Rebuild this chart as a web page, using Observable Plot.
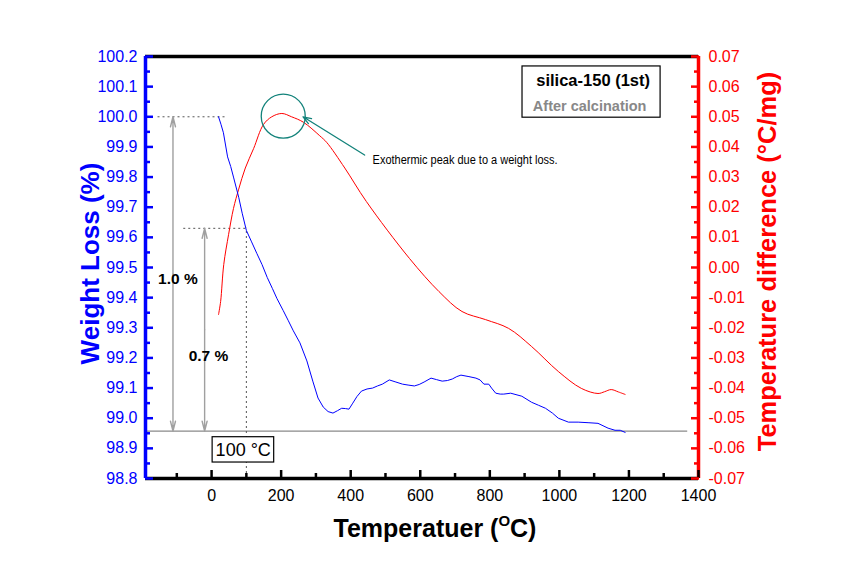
<!DOCTYPE html>
<html><head><meta charset="utf-8">
<script src="https://cdn.jsdelivr.net/npm/d3@7"></script>
<script src="https://cdn.jsdelivr.net/npm/@observablehq/plot@0.6"></script>
<style>body{margin:0;background:#fff;font-family:"Liberation Sans",Arial,sans-serif}</style>
</head><body><div id="chart"></div>
<script>
// Weight loss (TGA) curve: temperature (°C) and weight (%)
const weightT = [20,27,34,46,55,63,78,88,100,115,130,145,160,175,188,206,220,235,254,274,291,306,321,335,349,362,374,385,395,406,418,431,447,463,477,491,511,530,549,565,583,597,611,631,647,663,678,692,705,717,740,760,772,783,797,805,817,830,840,860,892,920,940,960,980,997,1026,1054,1085,1111,1140,1160,1175,1189];
const weightW = [100.00,99.975,99.947,99.867,99.835,99.80,99.733,99.68,99.623,99.585,99.547,99.51,99.467,99.43,99.397,99.357,99.325,99.29,99.25,99.19,99.123,99.067,99.037,99.022,99.017,99.025,99.033,99.032,99.03,99.05,99.072,99.09,99.097,99.10,99.107,99.113,99.127,99.12,99.113,99.11,99.107,99.112,99.12,99.133,99.128,99.123,99.125,99.13,99.138,99.143,99.138,99.133,99.127,99.113,99.113,99.10,99.083,99.08,99.08,99.083,99.073,99.053,99.043,99.033,99.017,99.0,98.987,98.987,98.985,98.983,98.967,98.96,98.96,98.953];
// Temperature difference (DTA) curve: temperature (°C) and ΔT (°C/mg)
const dtaT = [20,26,35,49,63,78,97,121,149,173,202,230,264,311,331,383,445,569,654,720,788,854,920,997,1063,1111,1130,1149,1170,1189];
const dtaD = [-0.0156,-0.0113,0.001,0.011,0.0196,0.026,0.033,0.0395,0.0474,0.0500,0.0511,0.0500,0.0482,0.0437,0.0415,0.0330,0.0219,0.003,-0.008,-0.0146,-0.0173,-0.0202,-0.0262,-0.0345,-0.0401,-0.0418,-0.0412,-0.0405,-0.0413,-0.0421];
// Ticks
const xTicks = [0,200,400,600,800,1000,1200,1400];
const xMinorTicks = [-100,100,300,500,700,900,1100,1300];
const yLeftTicks = [98.8,98.9,99.0,99.1,99.2,99.3,99.4,99.5,99.6,99.7,99.8,99.9,100.0,100.1,100.2];
const yLeftMinor = [98.85,98.95,99.05,99.15,99.25,99.35,99.45,99.55,99.65,99.75,99.85,99.95,100.05,100.15];
const yRightTicks = [-0.07,-0.06,-0.05,-0.04,-0.03,-0.02,-0.01,0.00,0.01,0.02,0.03,0.04,0.05,0.06,0.07];
const yRightMinor = [-0.065,-0.055,-0.045,-0.035,-0.025,-0.015,-0.005,0.005,0.015,0.025,0.035,0.045,0.055,0.065];

const W_MIN = 98.8, W_MAX = 100.2, D_MIN = -0.07, D_MAX = 0.07, X_MIN = -190, X_MAX = 1400;
const toW = d => W_MIN + (d - D_MIN) / (D_MAX - D_MIN) * (W_MAX - W_MIN);
const fromW = w => D_MIN + (w - W_MIN) / (W_MAX - W_MIN) * (D_MAX - D_MIN);
const fmtD = w => { let v = fromW(w); if (Math.abs(v) < 1e-9) v = 0; return v.toFixed(2); };

const weightData = weightT.map((t, i) => ({t, w: weightW[i]}));
const dtaData = dtaT.map((t, i) => ({t, w: toW(dtaD[i])}));

const BLUE = "#0000ff", RED = "#ff0000", TEAL = "#12827a", GRAY = "#a0a0a0";
const arrowsGray = [
  {x: -111, y1: (98.957 + 100.0) / 2, y2: 100.0},
  {x: -111, y1: (98.957 + 100.0) / 2, y2: 98.957},
  {x: -20, y1: (98.957 + 99.63) / 2, y2: 99.63},
  {x: -20, y1: (98.957 + 99.63) / 2, y2: 98.957}
];

const plot = Plot.plot({
  width: 865, height: 580,
  marginLeft: 145, marginRight: 167, marginTop: 56, marginBottom: 102,
  x: {domain: [X_MIN, X_MAX]},
  y: {domain: [W_MIN, W_MAX]},
  style: {fontFamily: "'Liberation Sans', Arial, sans-serif", fontSize: "16px", background: "white", overflow: "visible"},
  marks: [
    // reference lines
    Plot.ruleY([98.957], {x1: X_MIN, x2: 1369, stroke: "#8a8a8a", strokeWidth: 1.2}),
    Plot.ruleY([100.0], {x1: -154, x2: 40, stroke: "#555", strokeDasharray: "2,3"}),
    Plot.ruleY([99.63], {x1: -80, x2: 100, stroke: "#555", strokeDasharray: "2,3"}),
    Plot.ruleX([100], {y1: W_MIN, y2: 99.63, stroke: "#555", strokeDasharray: "2,3"}),
    Plot.arrow(arrowsGray, {x1: "x", x2: "x", y1: "y1", y2: "y2", stroke: GRAY, strokeWidth: 1.4, headLength: 11, headAngle: 28}),
    // curves
    Plot.line(dtaData, {x: "t", y: "w", stroke: RED, strokeWidth: 1, curve: "catmull-rom"}),
    Plot.line(weightData, {x: "t", y: "w", stroke: BLUE, strokeWidth: 1}),
    // annotations
    Plot.dot([0], {x: 206, y: 100.002, r: 22, stroke: TEAL, fill: "none", strokeWidth: 1.3}),
    Plot.arrow([0], {x1: 440, y1: 99.873, x2: 263, y2: 100.0, stroke: TEAL, strokeWidth: 1.3, headLength: 10, headAngle: 40}),
    Plot.text(["Exothermic peak due to a weight loss."], {x: 463, y: 99.857, textAnchor: "start", fontSize: 12, fill: "black"}),
    Plot.text(["1.0 %"], {x: -97, y: 99.463, fontSize: 15.5, fontWeight: "bold", fill: "black"}),
    Plot.text(["0.7 %"], {x: -9, y: 99.207, fontSize: 15.5, fontWeight: "bold", fill: "black"}),
    Plot.rect([0], {x1: 3, x2: 180, y1: 98.853, y2: 98.937, fill: "white", stroke: "black", strokeWidth: 1.2}),
    Plot.text(["100 °C"], {x: 91, y: 98.895, fontSize: 18, fill: "black"}),
    Plot.rect([0], {x1: 894, x2: 1291, y1: 99.997, y2: 100.167, fill: "white", stroke: "black", strokeWidth: 1.2}),
    Plot.text(["silica-150 (1st)"], {x: 1097, y: 100.12, fontSize: 16.5, fontWeight: "bold", fill: "black"}),
    Plot.text(["After calcination"], {x: 1087, y: 100.035, fontSize: 14.5, fontWeight: "bold", fill: "#888"}),
    // frame
    Plot.ruleY([W_MAX], {stroke: "black", strokeWidth: 3.5}),
    Plot.ruleY([W_MIN], {stroke: "black", strokeWidth: 3.5}),
    Plot.ruleX([X_MIN], {stroke: BLUE, strokeWidth: 3.5}),
    Plot.ruleX([X_MAX], {stroke: RED, strokeWidth: 3.5}),
    // x axis
    Plot.axisX(xTicks, {anchor: "bottom", tickSize: -8, fill: "none", stroke: "black", strokeWidth: 2.5, label: null}),
    Plot.axisX(xMinorTicks, {anchor: "bottom", tickSize: -5, fill: "none", stroke: "black", strokeWidth: 2.5, label: null}),
    Plot.axisX(xTicks, {anchor: "bottom", tickSize: 0, tickPadding: 11, fill: "black", fontSize: 16, tickFormat: d => String(d), label: null}),
    // left axis
    Plot.axisY(yLeftTicks, {anchor: "left", tickSize: -8, fill: "none", stroke: BLUE, strokeWidth: 2.5, label: null}),
    Plot.axisY(yLeftMinor, {anchor: "left", tickSize: -5, fill: "none", stroke: BLUE, strokeWidth: 2.5, label: null}),
    Plot.axisY(yLeftTicks, {anchor: "left", tickSize: 0, tickPadding: 8, fill: BLUE, fontSize: 16, tickFormat: d => d.toFixed(1), label: null}),
    // right axis
    Plot.axisY(yRightTicks.map(toW), {anchor: "right", tickSize: -8, fill: "none", stroke: RED, strokeWidth: 2.5, label: null}),
    Plot.axisY(yRightMinor.map(toW), {anchor: "right", tickSize: -5, fill: "none", stroke: RED, strokeWidth: 2.5, label: null}),
    Plot.axisY(yRightTicks.map(toW), {anchor: "right", tickSize: 0, tickPadding: 10, fill: RED, fontSize: 16, tickFormat: fmtD, label: null}),
    // axis titles
    Plot.text(["Weight Loss (%)"], {frameAnchor: "left", textAnchor: "middle", lineAnchor: "middle", rotate: -90, dx: -55, dy: -4, fill: BLUE, fontSize: 26, fontWeight: "bold"}),
    Plot.text(["Temperature difference (°C/mg)"], {frameAnchor: "right", textAnchor: "middle", lineAnchor: "middle", rotate: -90, dx: 69, dy: -6, fill: RED, fontSize: 25.5, fontWeight: "bold"}),
    Plot.text(["Temperatuer (OC)"], {frameAnchor: "bottom", textAnchor: "middle", lineAnchor: "middle", dx: 13, dy: 50, fill: "black", fontSize: 25, fontWeight: "bold"})
  ]
});
document.getElementById("chart").appendChild(plot);

// superscript "O" in x-axis title, condensed annotation text
d3.select(plot).selectAll("text").each(function() {
  const t = this.textContent;
  if (t === "Temperatuer (OC)") {
    const el = d3.select(this);
    el.text(null);
    el.append("tspan").text("Temperatuer (");
    el.append("tspan").attr("font-size", 15).attr("dy", -11).text("O");
    el.append("tspan").attr("dy", 11).text("C)");
  } else if (t === "Exothermic peak due to a weight loss.") {
    d3.select(this).attr("textLength", 185).attr("lengthAdjust", "spacingAndGlyphs");
  }
});
</script>
</body></html>
